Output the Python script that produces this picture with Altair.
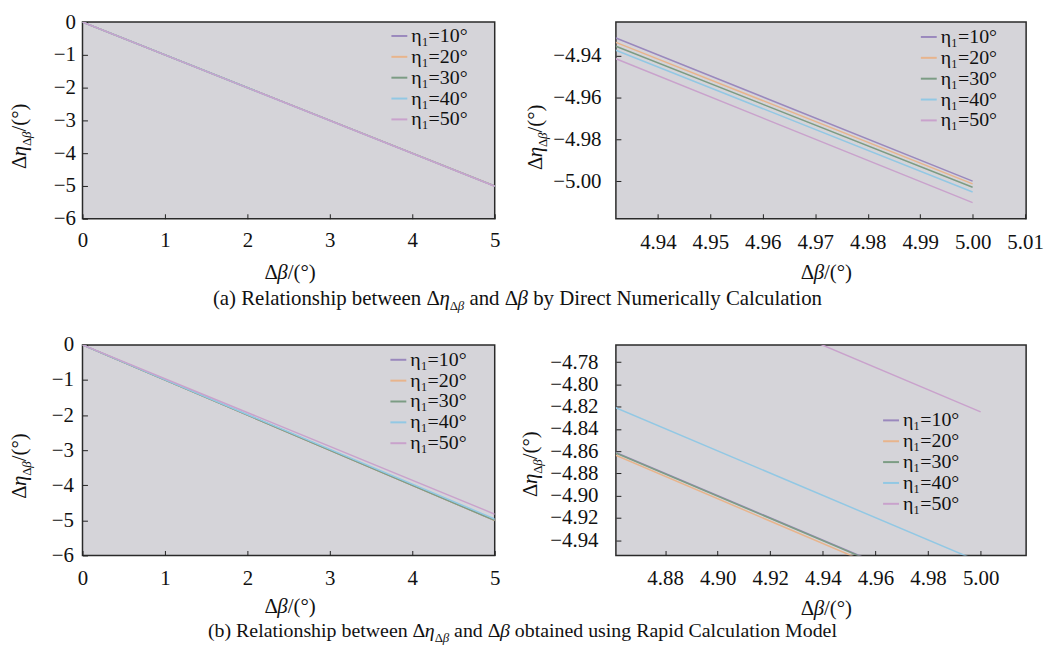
import altair as alt
import pandas as pd

FONT = "Liberation Serif"
TXT = "#111111"

series = ["η₁=10°", "η₁=20°", "η₁=30°", "η₁=40°", "η₁=50°"]
colors = ["#9a88bd", "#e8b48c", "#7c9c84", "#92c8e4", "#c9a2cc"]

# (a) direct numerical calculation
beta_a = [0.0, 4.932, 5.000]
eta_a_10 = [0.0, -4.9314, -5.0000]
eta_a_20 = [0.0, -4.9335, -5.0013]
eta_a_30 = [0.0, -4.9354, -5.0029]
eta_a_40 = [0.0, -4.9373, -5.0052]
eta_a_50 = [0.0, -4.9414, -5.0103]

# (b) rapid calculation model
beta_b = [0.0, 4.861, 5.000]
eta_b_10 = [0.0, -4.8610, -5.0000]
eta_b_20 = [0.0, -4.8635, -5.0035]
eta_b_30 = [0.0, -4.8615, -5.0005]
eta_b_40 = [0.0, -4.8208, -4.9598]
eta_b_50 = [0.0, -4.6860, -4.8247]

ticks_full_x = [0, 1, 2, 3, 4, 5]
ticks_full_y = [0, -1, -2, -3, -4, -5, -6]
ticks_a_zoom_x = [4.94, 4.95, 4.96, 4.97, 4.98, 4.99, 5.00, 5.01]
ticks_a_zoom_y = [-4.94, -4.96, -4.98, -5.00]
ticks_b_zoom_x = [4.88, 4.90, 4.92, 4.94, 4.96, 4.98, 5.00]
ticks_b_zoom_y = [-4.78, -4.80, -4.82, -4.84, -4.86, -4.88, -4.90, -4.92, -4.94]


def long_df(beta, cols):
    rows = []
    for name, vals in zip(series, cols):
        for b, e in zip(beta, vals):
            rows.append({"beta": b, "eta": e, "series": name})
    return pd.DataFrame(rows)


df_a = long_df(beta_a, [eta_a_10, eta_a_20, eta_a_30, eta_a_40, eta_a_50])
df_b = long_df(beta_b, [eta_b_10, eta_b_20, eta_b_30, eta_b_40, eta_b_50])

# Times / Liberation Serif advance widths (em)
W = {" ": .25, "(": .333, ")": .333, "/": .278, "°": .4, "a": .444, "b": .5, "c": .444,
     "d": .5, "e": .444, "g": .5, "h": .5, "i": .278, "l": .278, "m": .778, "n": .5,
     "o": .5, "p": .5, "r": .333, "s": .389, "t": .278, "u": .5, "w": .722, "y": .5,
     "C": .667, "D": .722, "M": .889, "N": .722, "R": .667, "Δ": .612, "η": .5, "β": .5}

ONE = alt.Data(values=[{"k": 0}])
SUB_SIZE = 13
SUB_SHIFT = 5


def tw(s, size):
    return sum(W.get(c, .5) for c in s) * size


def text_piece(t, x, y, size, italic, angle=0):
    kw = dict(align="left", baseline="alphabetic", font=FONT, fontSize=size,
              fontStyle="italic" if italic else "normal", color=TXT)
    if angle:
        kw["angle"] = angle
    return alt.Chart(ONE).mark_text(**kw).encode(
        x=alt.value(x), y=alt.value(y), text=alt.value(t))


def runs_h(runs, cx, by):
    total = sum(tw(t, s) for t, s, i, sub in runs)
    x = cx - total / 2
    out = []
    for t, s, it, sub in runs:
        lead = len(t) - len(t.lstrip(" "))
        x += lead * W[" "] * s
        core = t.strip(" ")
        out.append(text_piece(core, x, by + (SUB_SHIFT if sub else 0), s, it))
        x += tw(core, s)
        x += (len(t) - len(t.rstrip(" "))) * W[" "] * s
    return out


def runs_v(runs, bx, cy):
    total = sum(tw(t, s) for t, s, i, sub in runs)
    y = cy + total / 2
    out = []
    for t, s, it, sub in runs:
        out.append(text_piece(t, bx + (SUB_SHIFT if sub else 0), y, s, it, angle=270))
        y -= tw(t, s)
    return out


YT = [("Δ", 21, False, 0), ("η", 21, True, 0), ("Δ", SUB_SIZE, False, 1),
      ("β", SUB_SIZE, True, 1), ("/(°)", 21, False, 0)]
XT = [("Δ", 21, False, 0), ("β", 21, True, 0), ("/(°)", 21, False, 0)]


def caption(letter, tail, size):
    return [(f"({letter}) Relationship between Δ", size, False, 0), ("η", size, True, 0),
            ("Δ", SUB_SIZE, False, 1), ("β", SUB_SIZE, True, 1), (" and Δ", size, False, 0),
            ("β", size, True, 0), (" " + tail, size, False, 0)]


def panel(df, w, h, xdom, ydom, xt, yt, xfmt, yfmt, xpad, ypad, lx, ly, extra):
    lines = alt.Chart(df).mark_line(clip=True, strokeWidth=1.5).encode(
        x=alt.X("beta:Q", scale=alt.Scale(domain=xdom, nice=False, zero=False),
                axis=alt.Axis(values=xt, format=xfmt, title=None, grid=False, domain=False,
                              tickSize=5, offset=-5, tickColor="#222", tickWidth=1,
                              labelPadding=xpad, labelFlush=False, labelFont=FONT,
                              labelFontSize=21, labelColor=TXT, labelOverlap=False)),
        y=alt.Y("eta:Q", scale=alt.Scale(domain=ydom, nice=False, zero=False),
                axis=alt.Axis(values=yt, format=yfmt, title=None, grid=False, domain=False,
                              tickSize=5, offset=-5, tickColor="#222", tickWidth=1,
                              labelPadding=ypad, labelFont=FONT, labelFontSize=21,
                              labelColor=TXT, labelOverlap=False)),
        color=alt.Color("series:N", scale=alt.Scale(domain=series, range=colors),
                        legend=alt.Legend(orient="none", legendX=lx, legendY=ly, title=None,
                                          symbolType="stroke", symbolSize=256,
                                          symbolStrokeWidth=2, labelFont=FONT,
                                          labelFontSize=20, labelColor=TXT, rowPadding=1,
                                          padding=0, labelOffset=2)),
        detail="series:N",
    )
    return alt.layer(lines, *extra).properties(width=w, height=h)


# plot origins in reference: TL (83,20) TR (620,20) BL (83,345) BR (620,345)
RW = 413
tl = panel(df_a, 415, 198, [0, 5], [-6, 0], ticks_full_x, ticks_full_y, "d", "d", 11, 7,
           309, 4,
           runs_v(YT, -57, 115) + runs_h(XT, 209, 259) +
           runs_h(caption("a", "by Direct Numerically Calculation", 21), 521 - 83, 285))
tr = panel(df_a, RW, 198, [4.932, 5.0102], [-5.018, -4.9238], ticks_a_zoom_x, ticks_a_zoom_y,
           ".2f", ".2f", 13, 15, 305, 5,
           runs_v(YT, -74, 116) + runs_h(XT, 212, 259))
bl = panel(df_b, 415, 212, [0, 5], [-6, 0], ticks_full_x, ticks_full_y, "d", "d", 12, 9,
           308, 5,
           runs_v(YT, -57, 122) + runs_h(XT, 209, 270) +
           runs_h(caption("b", "obtained using Rapid Calculation Model", 20), 526 - 83, 294))
br = panel(df_b, RW, 212, [4.8613, 5.0173], [-4.9538, -4.7645], ticks_b_zoom_x, ticks_b_zoom_y,
           ".2f", ".2f", 12, 18, 267, 66,
           runs_v(YT, -79, 120) + runs_h(XT, 212, 272))

chart = alt.concat(tl, tr, bl, br, columns=2, spacing={"row": 127, "column": 122},
                   bounds="flush").resolve_scale(color="independent").resolve_legend(
    color="independent").properties(
    padding={"left": 0, "top": 0, "right": 0, "bottom": 0}, background="white"
).configure_view(fill="#d5d4d9", stroke="#2a2a2a", strokeWidth=1.5)

chart.save("out.html", embed_options={"renderer": "svg", "actions": False})
